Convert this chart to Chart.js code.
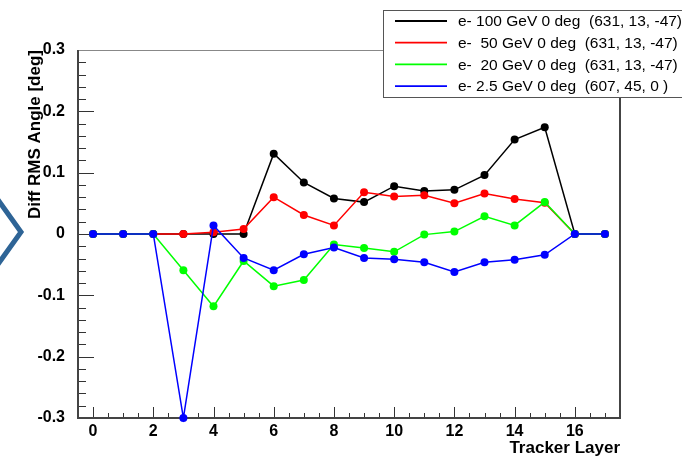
<!DOCTYPE html>
<html><head><meta charset="utf-8">
<script src="https://cdn.jsdelivr.net/npm/chart.js@4/dist/chart.umd.min.js"></script>
<style>html,body{margin:0;background:#fff}canvas{display:block}</style>
</head><body>
<canvas id="c" width="682" height="462"></canvas>
<script>
// tracker layers and the four diff-rms series
const layers=[0,1,2,3,4,5,6,7,8,9,10,11,12,13,14,15,16,17];
const e100=[0,0,0,0,0,0,0.131,0.084,0.058,0.052,0.078,0.070,0.072,0.096,0.154,0.174,0,0];
const e50=[0,0,0,0,0.003,0.008,0.060,0.031,0.014,0.068,0.061,0.063,0.050,0.066,0.057,0.051,0,0];
const e20=[0,0,0,-0.059,-0.118,-0.044,-0.085,-0.075,-0.017,-0.023,-0.029,-0.001,0.004,0.029,0.014,0.052,0,0];
const e2p5=[0,0,0,-0.3,0.014,-0.039,-0.059,-0.033,-0.022,-0.039,-0.041,-0.046,-0.062,-0.046,-0.042,-0.034,0,0];
const names=['e- 100 GeV 0 deg  (631, 13, -47)','e-  50 GeV 0 deg  (631, 13, -47)','e-  20 GeV 0 deg  (631, 13, -47)','e- 2.5 GeV 0 deg  (607, 45, 0 )'];
const colors=['#000000','#ff0000','#00ff00','#0000ff'];
const xTicks=[0,2,4,6,8,10,12,14,16];
const yTicks=[-0.3,-0.2,-0.1,0,0.1,0.2,0.3];

const FONT='"Liberation Sans", Arial, Helvetica, sans-serif';
Chart.defaults.font.family=FONT;

function ds(i,arr){ return {label:names[i], data:layers.map((x,k)=>({x, y:arr[k]})), showLine:true, borderColor:colors[i], backgroundColor:colors[i],
  borderWidth:1.5, pointRadius:4, pointBorderWidth:0, pointHoverRadius:4, clip:false, order:3-i}; }

// ROOT-style frame with inward ticks
const frame={ id:'frame', beforeDatasetsDraw(c){
  const {ctx,chartArea:a,scales:{x,y}}=c; ctx.save();
  ctx.strokeStyle='#333'; ctx.lineWidth=1;
  for(let v=-0.3; v<=0.3001; v+=0.02){ const p=Math.round(y.getPixelForValue(v))+0.5; const major=Math.abs(v*10-Math.round(v*10))<1e-6;
    ctx.beginPath(); ctx.moveTo(a.left,p); ctx.lineTo(a.left+(major?16:8),p); ctx.stroke(); }
  for(let v=0; v<=17.001; v+=0.5){ const p=Math.round(x.getPixelForValue(v))+0.5; const major=v%2===0;
    ctx.beginPath(); ctx.moveTo(p,a.bottom); ctx.lineTo(p,a.bottom-(major?11:5)); ctx.stroke(); }
  ctx.strokeStyle='#888'; ctx.beginPath(); ctx.moveTo(a.left,a.top+0.5); ctx.lineTo(a.right,a.top+0.5); ctx.stroke();
  ctx.strokeStyle='#444'; ctx.lineWidth=2;
  ctx.beginPath(); ctx.moveTo(a.right,a.top); ctx.lineTo(a.right,a.bottom); ctx.lineTo(a.left,a.bottom); ctx.lineTo(a.left,a.top); ctx.stroke();
  ctx.restore(); } };

const legendBox={ id:'legendBox', afterDraw(c){
  const ctx=c.ctx; ctx.save();
  ctx.fillStyle='#fff'; ctx.fillRect(383.5,10.5,310,87); ctx.strokeStyle='#555'; ctx.lineWidth=1; ctx.strokeRect(383.5,10.5,310,87);
  ctx.font='15.5px '+FONT; ctx.textBaseline='middle';
  names.forEach((n,i)=>{ const yy=21+i*21.7; ctx.strokeStyle=colors[i]; ctx.lineWidth=1.8; ctx.beginPath(); ctx.moveTo(395,yy); ctx.lineTo(447,yy); ctx.stroke();
    ctx.fillStyle='#000'; ctx.fillText(n,458,yy+1); });
  // chevron at left edge
  ctx.strokeStyle='#2e6496'; ctx.lineWidth=5; ctx.beginPath(); ctx.moveTo(-4,197); ctx.lineTo(21,232); ctx.lineTo(-4,267); ctx.stroke();
  ctx.restore(); } };

new Chart(document.getElementById('c'),{
  type:'scatter',
  data:{datasets:[ds(0,e100),ds(1,e50),ds(2,e20),ds(3,e2p5)]},
  options:{responsive:false, animation:false, devicePixelRatio:1,
    layout:{padding:{left:0,top:50,right:62,bottom:0}},
    plugins:{legend:{display:false}, tooltip:{enabled:false}},
    scales:{
      x:{type:'linear', min:-0.5, max:17.5, grid:{display:false}, border:{display:false},
        afterBuildTicks:s=>{ s.ticks=xTicks.map(v=>({value:v})); }, afterFit:s=>{ s.height=44; },
        ticks:{color:'#000', padding:-4, maxRotation:0, font:{size:16, weight:'bold'}},
        title:{display:true, text:'Tracker Layer', align:'end', color:'#000', font:{size:17, weight:'bold'}, padding:{top:0,bottom:3}}},
      y:{type:'linear', min:-0.3, max:0.3, grid:{display:false}, border:{display:false},
        afterBuildTicks:s=>{ s.ticks=yTicks.map(v=>({value:v})); }, afterFit:s=>{ s.width=78; },
        ticks:{color:'#000', padding:5, font:{size:16, weight:'bold'}, callback:v=>String(Math.round(v*10)/10)},
        title:{display:true, text:'Diff RMS Angle [deg]', align:'end', color:'#000', font:{size:17, weight:'bold'}, padding:{top:25,bottom:0}}}
    }},
  plugins:[frame,legendBox]
});
</script>
</body></html>
